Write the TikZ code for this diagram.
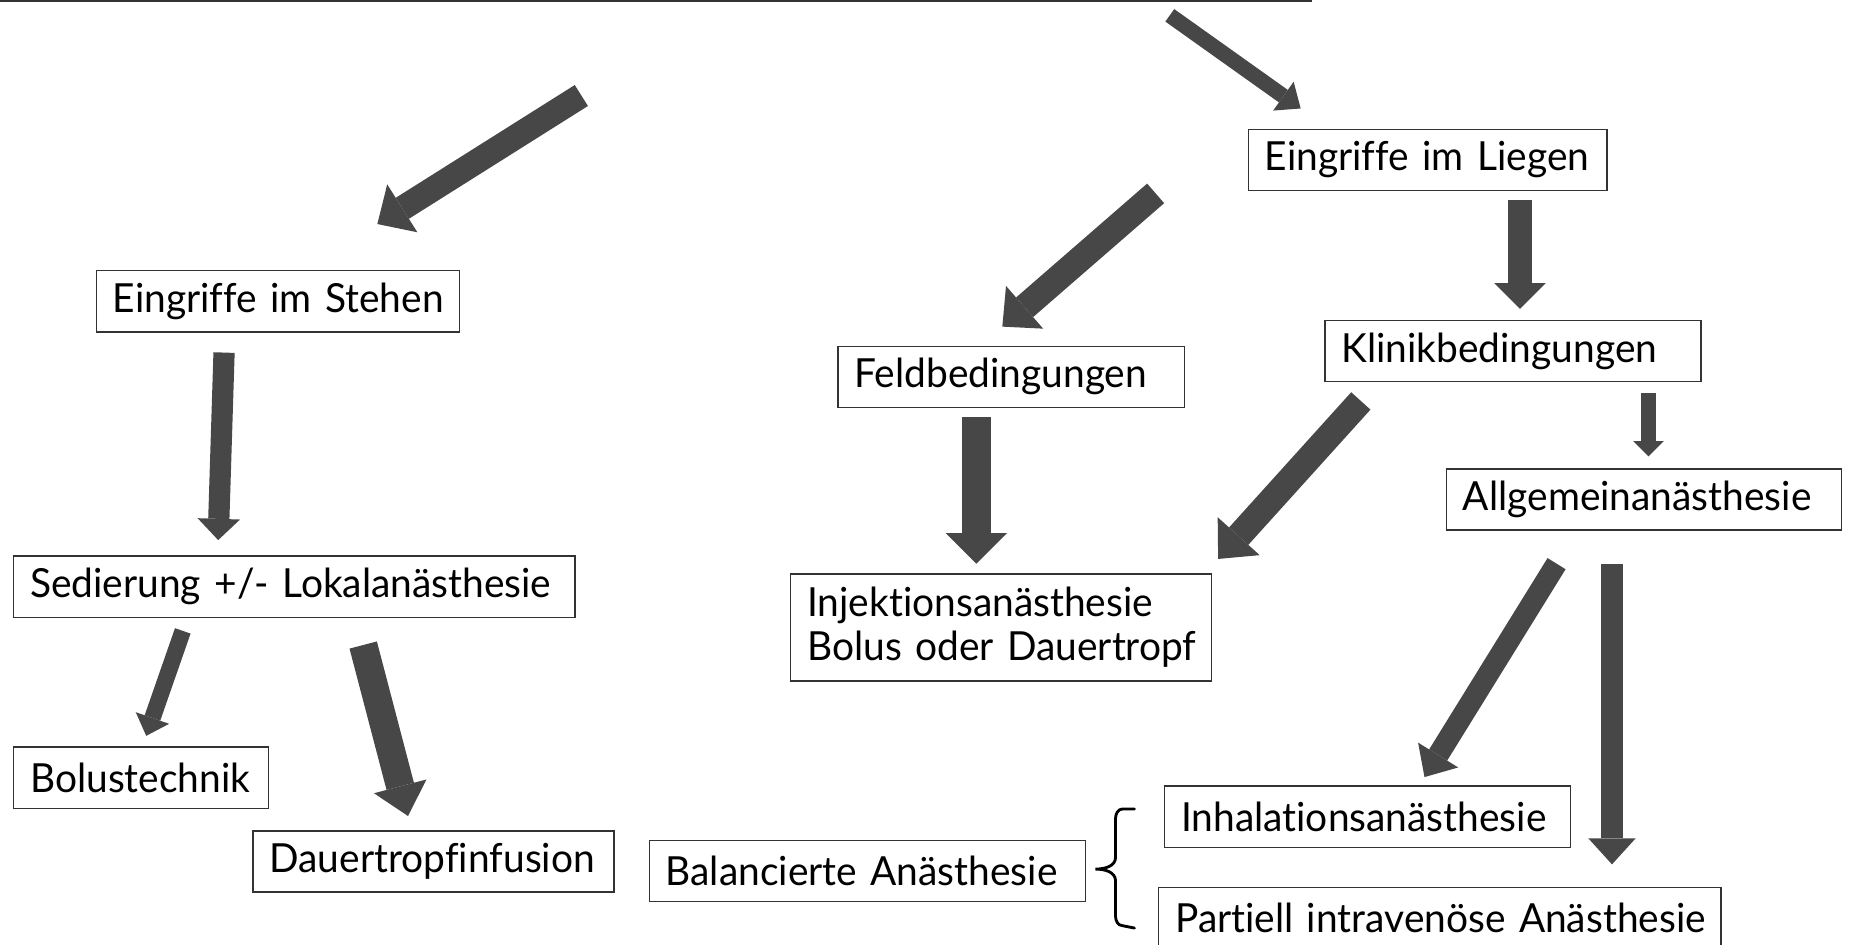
\documentclass[tikz,border=0pt]{standalone}
\usepackage{fontspec}
\setmainfont{Lato}[Ligatures=NoCommon, FakeStretch=0.97, WordSpace=0.85]
\usetikzlibrary{arrows.meta}
\definecolor{arrowgray}{HTML}{474747}
\definecolor{boxline}{HTML}{333333}
\tikzset{
  box/.style={draw=boxline, line width=0.6pt, anchor=north west, align=left,
    minimum height=26pt, inner xsep=7pt, inner ysep=0pt, font=\fontsize{17pt}{18.5pt}\selectfont},
  barrow/.style n args={3}{draw=arrowgray, line width=#1, line cap=butt,
    -{Triangle[width=#2, length=#3, line width=0pt]}},
}
\begin{document}
\begin{tikzpicture}[x=0.5pt, y=-0.5pt]
\useasboundingbox (0,0) rectangle (1568,801);
% top rule
\draw[line width=1pt, boxline] (0,1) -- (1113,1);
% boxes
\node[box, text width=138pt] (liegen) at (1058,109) {\mbox{Eingriffe im Liegen}};
\node[box, text width=140pt] (stehen) at (81,229) {\mbox{Eingriffe im Stehen}};
\node[box, text width=133pt] (feld) at (710,293) {\mbox{Feldbedingungen}};
\node[box, text width=145.5pt] (klinik) at (1123,271) {\mbox{Klinikbedingungen}};
\node[box, text width=153.5pt] (allg) at (1226,397) {\mbox{Allgemeinanästhesie}};
\node[box, text width=224pt] (sed) at (11,471) {\mbox{Sedierung +/- Lokalanästhesie}};
\node[box, text width=164.5pt, minimum height=45.5pt] (inj) at (670,486) {\mbox{Injektionsanästhesie}\\\mbox{Bolus oder Dauertropf}};
\node[box, text width=94pt] (bolus) at (11,633) {\mbox{Bolustechnik}};
\node[box, text width=139pt] (dauer) at (214,704) {\mbox{Dauertropfinfusion}};
\node[box, text width=171pt] (bal) at (550,712) {\mbox{Balancierte Anästhesie}};
\node[box, text width=158pt] (inh) at (987,666) {\mbox{Inhalationsanästhesie}};
\node[box, text width=224.5pt] (piva) at (982,752) {\mbox{Partiell intravenöse Anästhesie}};
% arrow end points
\coordinate (a1s) at (992,13);   \coordinate (a1e) at (1103,92);
\coordinate (a2s) at (493,81);   \coordinate (a2e) at (320,190);
\coordinate (a3s) at (190,299);  \coordinate (a3e) at (185,458);
\coordinate (a4s) at (155,535);  \coordinate (a4e) at (124,624);
\coordinate (a5s) at (308,547);  \coordinate (a5e) at (346,692);
\coordinate (a6s) at (980,164);  \coordinate (a6e) at (850,277);
\coordinate (a7s) at (1289,170); \coordinate (a7e) at (1289,262);
\coordinate (a8s) at (828,354);  \coordinate (a8e) at (828,478);
\coordinate (a9s) at (1154,340); \coordinate (a9e) at (1033,474);
\coordinate (a10s) at (1398,333); \coordinate (a10e) at (1398,387);
\coordinate (a11s) at (1320,478); \coordinate (a11e) at (1208,659);
\coordinate (a12s) at (1367,478); \coordinate (a12e) at (1367,733);
% block arrows
\draw[barrow={6.5pt}{15pt}{9pt}] (a1s) -- (a1e);
\draw[barrow={10.5pt}{24pt}{12.5pt}] (a2s) -- (a2e);
\draw[barrow={9pt}{18pt}{9pt}] (a3s) -- (a3e);
\draw[barrow={7pt}{15pt}{8pt}] (a4s) -- (a4e);
\draw[barrow={12pt}{23pt}{13pt}] (a5s) -- (a5e);
\draw[barrow={11pt}{24pt}{12.5pt}] (a6s) -- (a6e);
\draw[barrow={10pt}{22pt}{11pt}] (a7s) -- (a7e);
\draw[barrow={12pt}{26pt}{13pt}] (a8s) -- (a8e);
\draw[barrow={11pt}{24pt}{13pt}] (a9s) -- (a9e);
\draw[barrow={6pt}{13pt}{6.5pt}] (a10s) -- (a10e);
\draw[barrow={9pt}{20pt}{11pt}] (a11s) -- (a11e);
\draw[barrow={9pt}{20pt}{11pt}] (a12s) -- (a12e);
% brace
\coordinate (brt) at (962,686);
\coordinate (brm) at (929,737);
\coordinate (brb) at (962,787);
\draw[line width=1.2pt, black, line cap=round]
  (brt) -- ++(-10,0) to[out=180,in=90] ++(-6,8) -- ++(0,33)
  to[out=-90,in=0] (brm) to[out=0,in=90] ++(17,10) -- ++(0,30)
  to[out=-90,in=180] ++(6,8) -- (brb);
\end{tikzpicture}
\end{document}
